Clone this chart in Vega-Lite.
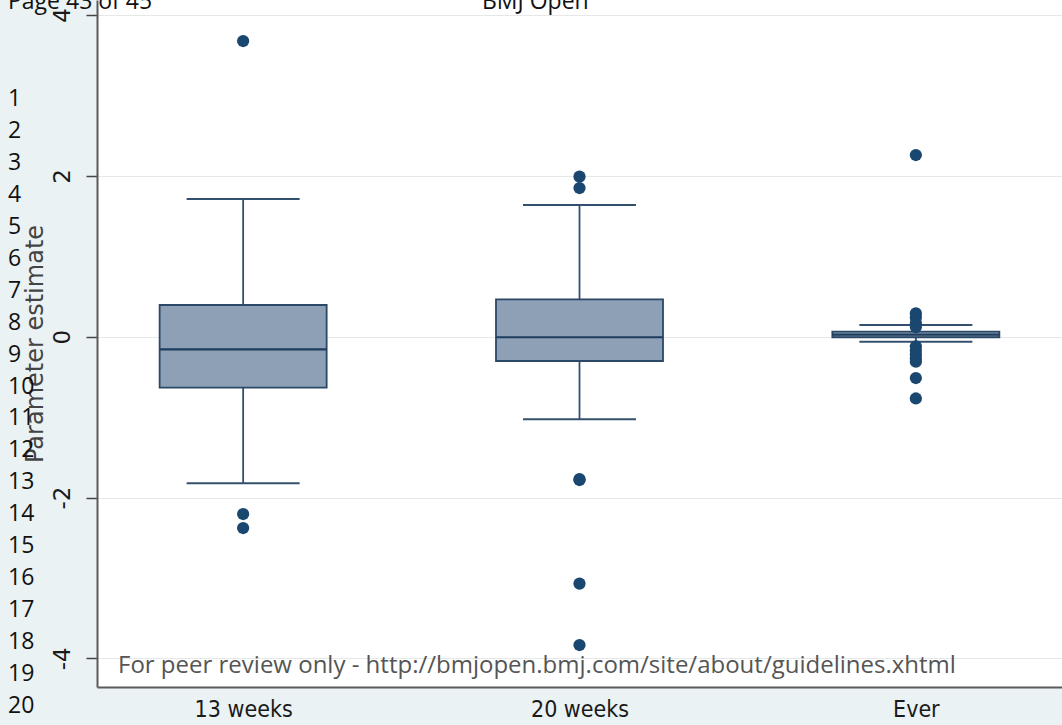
{
  "$schema": "https://vega.github.io/schema/vega-lite/v6.json",
  "width": 965,
  "height": 687,
  "autosize": {"type": "none"},
  "padding": {"left": 97, "top": 0, "right": 0, "bottom": 38},
  "background": "#eaf2f3",
  "config": {"view": {"fill": "white", "stroke": null}, "font": "Liberation Sans"},
  "datasets": {
    "boxes": [
      {"group": "13 weeks", "lower": -1.823, "q1": -0.634, "median": -0.157, "q3": 0.394, "upper": 1.712},
      {"group": "20 weeks", "lower": -1.027, "q1": -0.302, "median": -0.007, "q3": 0.465, "upper": 1.638},
      {"group": "Ever", "lower": -0.062, "q1": -0.007, "median": 0.027, "q3": 0.062, "upper": 0.146}
    ],
    "outliers": [
      {"group": "13 weeks", "value": 3.677},
      {"group": "13 weeks", "value": -2.205},
      {"group": "13 weeks", "value": -2.379},
      {"group": "20 weeks", "value": 1.99},
      {"group": "20 weeks", "value": 1.849},
      {"group": "20 weeks", "value": -1.782},
      {"group": "20 weeks", "value": -1.772},
      {"group": "20 weeks", "value": -3.07},
      {"group": "20 weeks", "value": -3.834},
      {"group": "Ever", "value": 2.259},
      {"group": "Ever", "value": 0.29},
      {"group": "Ever", "value": 0.24},
      {"group": "Ever", "value": 0.17},
      {"group": "Ever", "value": 0.12},
      {"group": "Ever", "value": -0.12},
      {"group": "Ever", "value": -0.17},
      {"group": "Ever", "value": -0.22},
      {"group": "Ever", "value": -0.27},
      {"group": "Ever", "value": -0.31},
      {"group": "Ever", "value": -0.514},
      {"group": "Ever", "value": -0.768}
    ],
    "one": [{}]
  },
  "layer": [
    {
      "layer": [
        {
          "data": {"name": "boxes"},
          "mark": {"type": "rule", "color": "#34506f", "strokeWidth": 1.8},
          "encoding": {
            "x": {
              "field": "group", "type": "nominal", "sort": null,
              "scale": {"type": "point", "padding": 0.4345},
              "axis": {
                "title": null, "labelAngle": 0, "ticks": false, "labelPadding": 11,
                "labelFont": "DejaVu Sans Condensed, Liberation Sans",
                "labelFontSize": 23, "labelColor": "#1a1a1a",
                "domainColor": "#5a5a5a", "domainWidth": 2, "grid": false
              }
            },
            "y": {
              "field": "lower", "type": "quantitative",
              "scale": {"domain": [-4.356, 4.187], "nice": false, "zero": false},
              "axis": {
                "title": "Parameter estimate", "values": [-4, -2, 0, 2, 4],
                "labelExpr": "toString(datum.value)",
                "grid": true, "gridColor": "#e6e8e8", "gridWidth": 1,
                "tickSize": 11, "tickColor": "#444444", "tickWidth": 1.5,
                "domainColor": "#5a5a5a", "domainWidth": 2,
                "labelAngle": 270, "labelAlign": "center", "labelBaseline": "bottom",
                "labelPadding": 12, "labelFont": "DejaVu Sans", "labelFontSize": 23, "labelColor": "#1a1a1a",
                "titleFont": "DejaVu Sans", "titleFontSize": 24, "titleFontWeight": "normal",
                "titleColor": "#444444", "titlePadding": 4
              }
            },
            "y2": {"field": "upper"}
          }
        },
        {
          "data": {"name": "boxes"},
          "mark": {"type": "bar", "size": 167, "fill": "#8da0b6", "stroke": "#2b4867", "strokeWidth": 1.8},
          "encoding": {
            "x": {"field": "group", "type": "nominal", "sort": null},
            "y": {"field": "q1", "type": "quantitative"},
            "y2": {"field": "q3"}
          }
        },
        {
          "data": {"name": "boxes"},
          "mark": {"type": "tick", "size": 113, "thickness": 2, "color": "#34506f", "opacity": 1},
          "encoding": {
            "x": {"field": "group", "type": "nominal", "sort": null},
            "y": {"field": "upper", "type": "quantitative"}
          }
        },
        {
          "data": {"name": "boxes"},
          "mark": {"type": "tick", "size": 113, "thickness": 2, "color": "#34506f", "opacity": 1},
          "encoding": {
            "x": {"field": "group", "type": "nominal", "sort": null},
            "y": {"field": "lower", "type": "quantitative"}
          }
        },
        {
          "data": {"name": "boxes"},
          "mark": {"type": "tick", "size": 167, "thickness": 2.2, "color": "#1f3d5e", "opacity": 1},
          "encoding": {
            "x": {"field": "group", "type": "nominal", "sort": null},
            "y": {"field": "median", "type": "quantitative"}
          }
        },
        {
          "data": {"name": "outliers"},
          "mark": {"type": "circle", "size": 150, "color": "#1a476f", "opacity": 1},
          "encoding": {
            "x": {"field": "group", "type": "nominal", "sort": null},
            "y": {"field": "value", "type": "quantitative"}
          }
        }
      ]
    },
    {
      "data": {"name": "one"},
      "layer": [
        {
          "mark": {"type": "text", "align": "left", "baseline": "alphabetic", "font": "Open Sans", "fontSize": 23, "color": "#111111", "text": "Page 43 of 45"},
          "encoding": {
            "x": {"datum": 0.3006, "type": "quantitative", "scale": {"domain": [0.5655, 3.4375], "nice": false, "zero": false}, "axis": null},
            "y": {"datum": 4.075, "type": "quantitative"}
          }
        },
        {
          "mark": {"type": "text", "align": "left", "baseline": "alphabetic", "font": "Open Sans", "fontSize": 23, "color": "#111111", "text": "BMJ Open"},
          "encoding": {
            "x": {"datum": 1.7113, "type": "quantitative"},
            "y": {"datum": 4.075, "type": "quantitative"}
          }
        },
        {
          "mark": {"type": "text", "align": "left", "baseline": "alphabetic", "font": "Open Sans", "fontSize": 23, "color": "#111111", "lineBreak": "\n", "lineHeight": 31.95,
                   "text": "1\n2\n3\n4\n5\n6\n7\n8\n9\n10\n11\n12\n13\n14\n15\n16\n17\n18\n19\n20"},
          "encoding": {
            "x": {"datum": 0.3006, "type": "quantitative"},
            "y": {"datum": 2.869, "type": "quantitative"}
          }
        },
        {
          "mark": {"type": "text", "align": "left", "baseline": "alphabetic", "font": "Open Sans", "fontSize": 24, "color": "#555555", "text": "For peer review only - http://bmjopen.bmj.com/site/about/guidelines.xhtml"},
          "encoding": {
            "x": {"datum": 0.628, "type": "quantitative"},
            "y": {"datum": -4.182, "type": "quantitative"}
          }
        }
      ]
    }
  ],
  "resolve": {"scale": {"x": "independent"}}
}
